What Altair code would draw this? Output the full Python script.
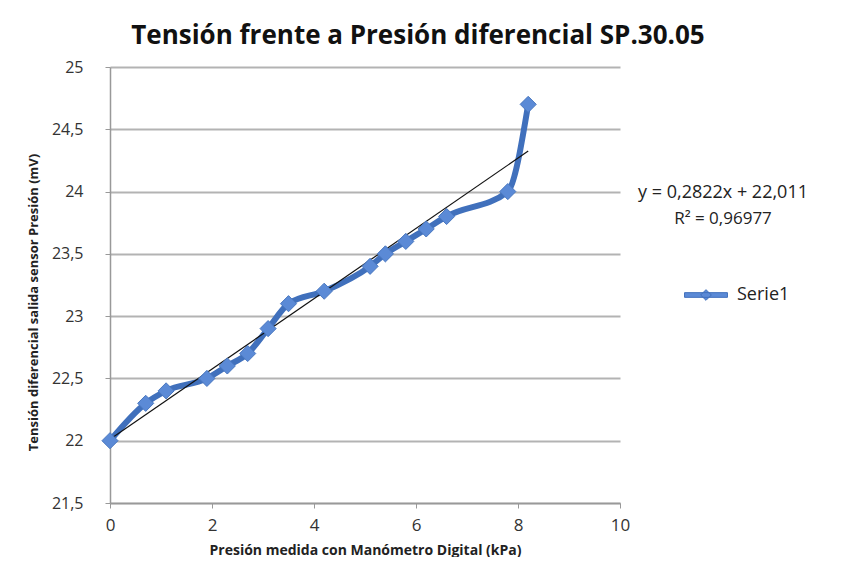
import altair as alt
import pandas as pd

presion = [0.0, 0.7, 1.1, 1.9, 2.3, 2.7, 3.1, 3.5, 4.2, 5.1, 5.4, 5.8, 6.2, 6.6, 7.8, 8.2]
tension = [22.0, 22.3, 22.4, 22.5, 22.6, 22.7, 22.9, 23.1, 23.2, 23.4, 23.5, 23.6, 23.7, 23.8, 24.0, 24.7]
serie = ["Serie1"] * len(presion)

trend_x = [0.0, 8.2]
slope, intercept = 0.2822, 22.011
trend_y = [slope * v + intercept for v in trend_x]

eq_lines = ["y = 0,2822x + 22,011", "R² = 0,96977"]

FONT = "Open Sans"
BLUE_LINE = "#4070bc"
BLUE_FILL = "#5b8ad6"

df = pd.DataFrame({"x": presion, "y": tension, "s": serie})
tdf = pd.DataFrame({"x": trend_x, "y": trend_y})
edf = pd.DataFrame({"t": eq_lines})

xs = alt.Scale(domain=[0, 10], zero=False, nice=False)
ys = alt.Scale(domain=[21.5, 25], zero=False, nice=False)

xaxis = alt.Axis(values=[0, 2, 4, 6, 8, 10], grid=False, title="Presión medida con Manómetro Digital (kPa)",
                 labelFontSize=17, labelColor="#333", titleFontSize=14, titleFontWeight="bold",
                 titleColor="#222", titleY=47, titleBaseline="middle", tickSize=5, tickColor="#999",
                 domainColor="#999", domainWidth=1.5, labelPadding=9, labelFlush=False)
yaxis = alt.Axis(values=[21.5, 22, 22.5, 23, 23.5, 24, 24.5, 25], grid=True, gridColor="#b3b3b3",
                 gridWidth=2, title="Tensión diferencial salida sensor Presión (mV)", format="~g",
                 labelFontSize=16, labelColor="#333", titleFontSize=13, titleFontWeight="bold",
                 titleColor="#222", titleX=-70, titleY=235, tickSize=5, tickColor="#999",
                 domainColor="#999", domainWidth=1.5, labelPadding=22, labelOverlap=False,
                 labelExpr="replace(datum.label, '.', ',')")

X = alt.X("x:Q", scale=xs, axis=xaxis)
Y = alt.Y("y:Q", scale=ys, axis=yaxis)

diamond_line = "M-3.2,-0.35L3.2,-0.35L3.2,0.35L-3.2,0.35Z M0,-0.8L0.8,0L0,0.8L-0.8,0Z"

line = alt.Chart(df).mark_line(strokeWidth=6, interpolate="monotone", color=BLUE_LINE).encode(x=X, y=Y)
pts = alt.Chart(df).mark_point(shape="diamond", size=260, filled=True, opacity=1,
                                stroke="#4a78c0", strokeWidth=1).encode(
    x=X, y=Y,
    color=alt.Color("s:N", scale=alt.Scale(range=[BLUE_FILL]),
                    legend=alt.Legend(title=None, orient="none", legendX=587, legendY=219,
                                      symbolType=diamond_line, symbolSize=180, symbolFillColor=BLUE_FILL,
                                      symbolStrokeColor=BLUE_LINE, symbolStrokeWidth=1,
                                      labelFontSize=18, labelColor="#222", labelFont=FONT, labelOffset=22)),
)
trend = alt.Chart(tdf).mark_line(color="#111", strokeWidth=1.2).encode(x=X, y=Y)
eq1 = alt.Chart(edf.iloc[[0]]).mark_text(fontSize=18, font=FONT, color="#222", align="center").encode(
    x=alt.value(613), y=alt.value(126), text="t:N")
eq2 = alt.Chart(edf.iloc[[1]]).mark_text(fontSize=17, font=FONT, color="#222", align="center").encode(
    x=alt.value(613), y=alt.value(152), text="t:N")

chart = alt.layer(line, trend, pts, eq1, eq2).properties(
    width=510, height=436,
    title=alt.TitleParams("Tensión frente a Presión diferencial SP.30.05", fontSize=26, font=FONT,
                          fontWeight="bold", color="#111", anchor="middle", offset=10, dx=53),
    autosize=alt.AutoSizeParams(type="none"),
    padding={"left": 102, "top": 59, "right": 220, "bottom": 54},
).configure_view(stroke=None).configure_axis(labelFont=FONT, titleFont=FONT)

chart.save("out.html", embed_options={"renderer": "svg", "actions": False})
